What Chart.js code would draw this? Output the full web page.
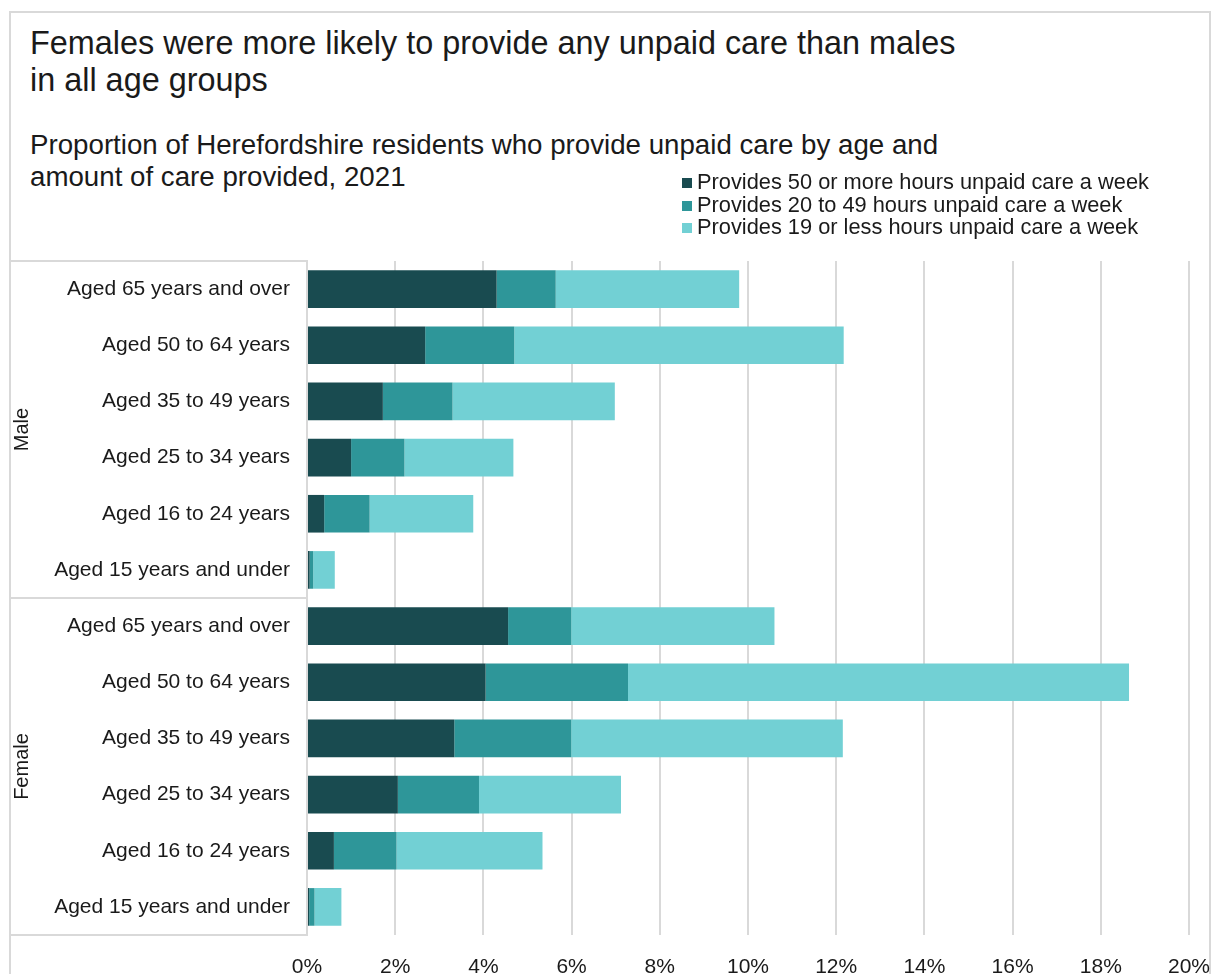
<!DOCTYPE html>
<html>
<head>
<meta charset="utf-8">
<script src="https://cdn.jsdelivr.net/npm/chart.js@4"></script>
<style>
  body { margin: 0; background: #fff; font-family: "Liberation Sans", Arial, sans-serif; color: #1a1a1a; }
  #frame { position: absolute; left: 9px; top: 11px; width: 1202px; height: 1000px; border: 2px solid #d9d9d9; box-sizing: border-box; }
  .txt { position: absolute; white-space: nowrap; }
  #title { left: 30px; top: 25px; font-size: 32.4px; line-height: 37px; }
  #subtitle { left: 30px; top: 129px; font-size: 27.7px; line-height: 32px; }
  #legend { position: absolute; left: 682px; top: 171px; font-size: 21.8px; line-height: 22.5px; }
  .item { white-space: nowrap; }
  .swatch { display: inline-block; width: 10px; height: 10px; margin-right: 5px; vertical-align: 1px; }
  #wrap { position: absolute; left: 0; top: 0; width: 1214px; height: 974px; }
</style>
</head>
<body>
<div id="frame"></div>
<div class="txt" id="title">Females were more likely to provide any unpaid care than males<br>in all age groups</div>
<div class="txt" id="subtitle">Proportion of Herefordshire residents who provide unpaid care by age and<br>amount of care provided, 2021</div>
<div id="wrap"><canvas id="careChart"></canvas></div>
<div id="legend"></div>
<script>
const ageGroups = ['Aged 65 years and over', 'Aged 50 to 64 years', 'Aged 35 to 49 years',
                   'Aged 25 to 34 years', 'Aged 16 to 24 years', 'Aged 15 years and under'];
const sexGroups = ['Male', 'Female'];

const seriesNames = ['Provides 50 or more hours unpaid care a week',
                     'Provides 20 to 49 hours unpaid care a week',
                     'Provides 19 or less hours unpaid care a week'];
const seriesColors = ['#194b50', '#2e9699', '#72d0d4'];

// percent of residents, male rows then female rows (same age order)
const hours50plus  = [4.30, 2.68, 1.72, 1.00, 0.39, 0.06,   4.56, 4.05, 3.34, 2.06, 0.61, 0.05];
const hours20to49  = [1.34, 2.02, 1.58, 1.21, 1.03, 0.08,   1.43, 3.23, 2.65, 1.84, 1.42, 0.12];
const hours19less  = [4.16, 7.47, 3.68, 2.47, 2.35, 0.49,   4.61, 11.36, 6.16, 3.22, 3.31, 0.61];

const tickValues = [0, 2, 4, 6, 8, 10, 12, 14, 16, 18, 20];

const labels = sexGroups.flatMap(() => ageGroups);
const seriesData = [hours50plus, hours20to49, hours19less];

const lineColor = '#d9d9d9';

// Male / Female boxes on the left of the category axis
const groupBoxes = {
    id: 'groupBoxes',
    afterDraw(chart) {
        const c = chart.ctx;
        const y = chart.scales.y;
        const area = chart.chartArea;
        const x0 = 10;
        const per = ageGroups.length;
        c.save();
        c.strokeStyle = lineColor;
        c.lineWidth = 2;
        const cuts = [area.top];
        for (let g = 1; g < sexGroups.length; g++) {
            cuts.push((y.getPixelForValue(g * per - 1) + y.getPixelForValue(g * per)) / 2);
        }
        cuts.push(area.bottom);
        c.beginPath();
        cuts.forEach(py => { c.moveTo(x0, py); c.lineTo(area.left, py); });
        c.moveTo(x0, area.top); c.lineTo(x0, area.bottom);
        c.stroke();

        c.fillStyle = '#1a1a1a';
        c.font = '20px "Liberation Sans", Arial, sans-serif';
        c.textAlign = 'center';
        c.textBaseline = 'middle';
        sexGroups.forEach((name, g) => {
            const mid = (cuts[g] + cuts[g + 1]) / 2;
            c.save();
            c.translate(22, mid);
            c.rotate(-Math.PI / 2);
            c.fillText(name, 0, 0);
            c.restore();
        });
        c.restore();
    }
};

document.addEventListener('DOMContentLoaded', function () {
    const ctx = document.getElementById('careChart').getContext('2d');

    const chart = new Chart(ctx, {
        type: 'bar',
        data: {
            labels: labels,
            datasets: seriesNames.map((name, i) => ({
                label: name,
                data: seriesData[i],
                backgroundColor: seriesColors[i],
                borderWidth: 0,
                barPercentage: 0.67,
                categoryPercentage: 1
            }))
        },
        options: {
            indexAxis: 'y',
            responsive: true,
            maintainAspectRatio: false,
            animation: false,
            layout: { padding: { top: 261, right: 25, left: 0, bottom: 0 } },
            plugins: {
                legend: { display: false },
                title: { display: false },
                tooltip: { enabled: false }
            },
            scales: {
                x: {
                    stacked: true,
                    min: 0,
                    max: 20,
                    afterBuildTicks: axis => { axis.ticks = tickValues.map(v => ({ value: v })); },
                    afterFit: axis => {
                        axis.height = 39;
                        axis.paddingRight = 0;
                        axis.paddingLeft = 0;
                    },
                    border: { display: false },
                    grid: { color: lineColor, lineWidth: 2, drawTicks: false },
                    ticks: {
                        padding: 20,
                        color: '#1a1a1a',
                        font: { family: '"Liberation Sans", Arial, sans-serif', size: 21 },
                        callback: v => v + '%'
                    }
                },
                y: {
                    stacked: true,
                    afterFit: axis => { axis.width = 307; },
                    border: { display: true, color: lineColor, width: 2 },
                    grid: { display: false, drawTicks: false },
                    ticks: {
                        padding: 17,
                        color: '#1a1a1a',
                        autoSkip: false,
                        font: { family: '"Liberation Sans", Arial, sans-serif', size: 21 }
                    }
                }
            }
        },
        plugins: [groupBoxes]
    });

    // legend built from the series arrays
    const legend = document.getElementById('legend');
    seriesNames.forEach((name, i) => {
        const row = document.createElement('div');
        row.className = 'item';
        const sw = document.createElement('span');
        sw.className = 'swatch';
        sw.style.backgroundColor = seriesColors[i];
        row.appendChild(sw);
        row.appendChild(document.createTextNode(name));
        legend.appendChild(row);
    });
});
</script>
</body>
</html>
